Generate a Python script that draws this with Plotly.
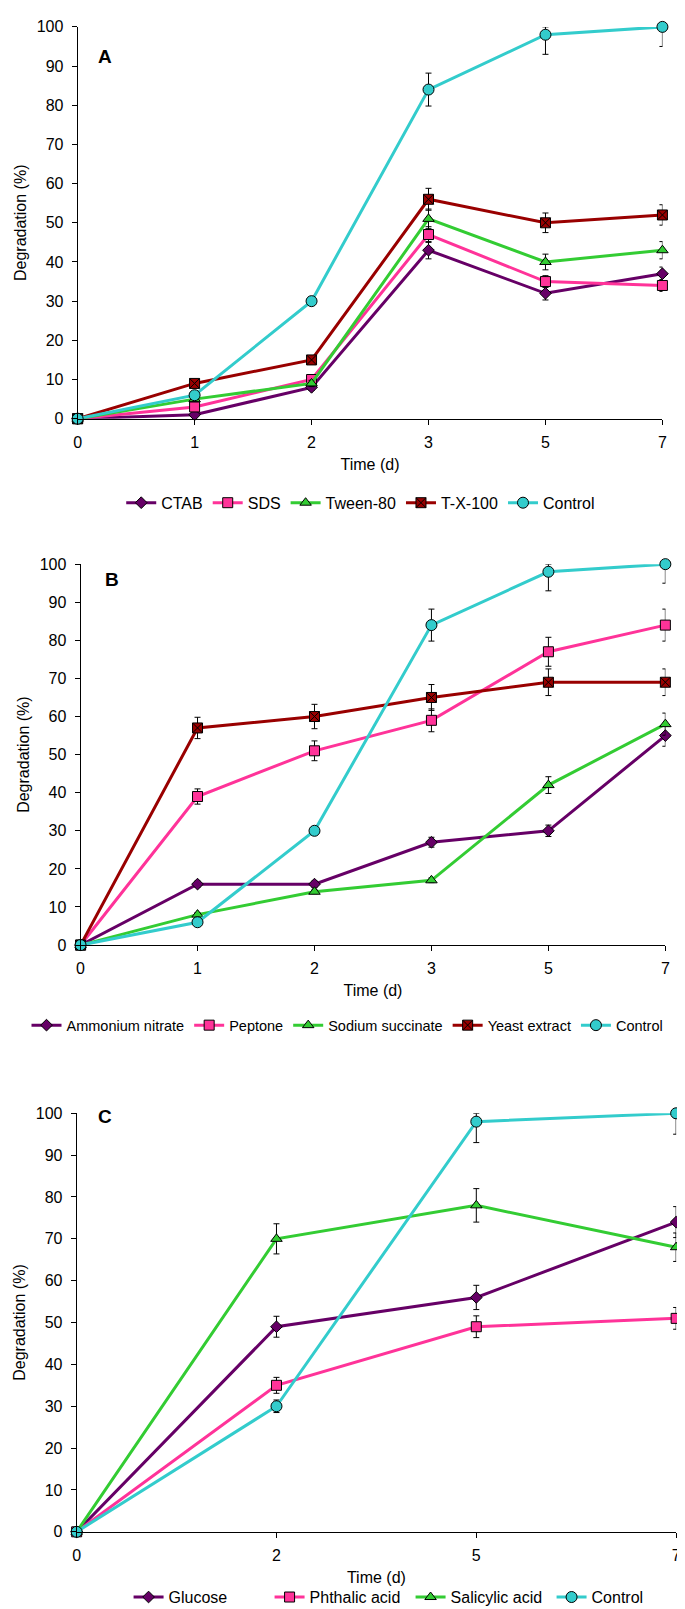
import plotly.graph_objects as go

# ---------------- data ----------------
days_a = ["0", "1", "2", "3", "5", "7"]
ctab = [0, 1, 8, 43, 32, 37]
ctab_err = [0, 0.5, 0.8, 2.2, 1.7, 1.7]
sds = [0, 3, 10, 47, 35, 34]
sds_err = [0, 0.6, 0.8, 2.0, 1.5, 1.5]
tween = [0, 5, 9, 51, 40, 43]
tween_err = [0, 0.6, 0.8, 2.5, 2.0, 2.2]
tx100 = [0, 9, 15, 56, 50, 52]
tx100_err = [0, 0.6, 0.8, 2.8, 2.5, 2.6]
control_a = [0, 6, 30, 84, 98, 100]
control_a_err = [0, 0.5, 1.0, 4.2, 5.0, 5.0]

days_b = ["0", "1", "2", "3", "5", "7"]
amm = [0, 16, 16, 27, 30, 55]
amm_err = [0, 0.8, 0.8, 1.3, 1.5, 2.8]
pep = [0, 39, 51, 59, 77, 84]
pep_err = [0, 2.0, 2.6, 3.0, 3.8, 4.2]
succ = [0, 8, 14, 17, 42, 58]
succ_err = [0, 0.5, 0.5, 0.6, 2.2, 2.9]
yeast = [0, 57, 60, 65, 69, 69]
yeast_err = [0, 2.8, 3.2, 3.4, 3.5, 3.5]
control_b = [0, 6, 30, 84, 98, 100]
control_b_err = [0, 0.5, 1.0, 4.2, 5.0, 5.0]

days_c = ["0", "2", "5", "7"]
glu = [0, 49, 56, 74]
glu_err = [0, 2.5, 2.9, 3.7]
pht = [0, 35, 49, 51]
pht_err = [0, 1.9, 2.6, 2.6]
sal = [0, 70, 78, 68]
sal_err = [0, 3.6, 4.0, 3.4]
control_c = [0, 30, 98, 100]
control_c_err = [0, 1.5, 5.0, 5.0]

# ---------------- styles ----------------
PURPLE = "#660066"
PINK = "#FF3399"
GREEN = "#33CC33"
DARKRED = "#990000"
TURQ = "#33CCCC"
FONT = "Liberation Sans, Arial, sans-serif"

fig = go.Figure()


def add(x, y, err, name, color, symbol, size, axis, legend):
    plus = [min(e, 100 - v) for e, v in zip(err, y)]
    fig.add_trace(go.Scatter(
        x=x, y=y, name=name, mode="lines+markers",
        line=dict(color=color, width=3),
        marker=dict(symbol=symbol, size=size, color=color,
                    line=dict(color="black", width=1)),
        error_y=dict(type="data", symmetric=False, array=plus, arrayminus=err,
                     color="black", thickness=1, width=3),
        xaxis="x" + axis, yaxis="y" + axis, legend=legend,
        cliponaxis=False,
    ))


add(days_a, ctab, ctab_err, "CTAB", PURPLE, "diamond", 9, "", "legend")
add(days_a, sds, sds_err, "SDS", PINK, "square", 10, "", "legend")
add(days_a, tween, tween_err, "Tween-80", GREEN, "triangle-up", 10, "", "legend")
add(days_a, tx100, tx100_err, "T-X-100", DARKRED, "square-x", 10, "", "legend")
add(days_a, control_a, control_a_err, "Control", TURQ, "circle", 11, "", "legend")

add(days_b, amm, amm_err, "Ammonium nitrate", PURPLE, "diamond", 9, "2", "legend2")
add(days_b, pep, pep_err, "Peptone", PINK, "square", 10, "2", "legend2")
add(days_b, succ, succ_err, "Sodium succinate", GREEN, "triangle-up", 10, "2", "legend2")
add(days_b, yeast, yeast_err, "Yeast extract", DARKRED, "square-x", 10, "2", "legend2")
add(days_b, control_b, control_b_err, "Control", TURQ, "circle", 11, "2", "legend2")

add(days_c, glu, glu_err, "Glucose", PURPLE, "diamond", 9, "3", "legend3")
add(days_c, pht, pht_err, "Phthalic acid", PINK, "square", 10, "3", "legend3")
add(days_c, sal, sal_err, "Salicylic acid", GREEN, "triangle-up", 10, "3", "legend3")
add(days_c, control_c, control_c_err, "Control", TURQ, "circle", 11, "3", "legend3")

W, H = 685, 1609


def xdom(l, r):
    return [l / W, r / W]


def ydom(bottom, top):
    return [1 - bottom / H, 1 - top / H]


def xaxis(dom, n, anchor):
    return dict(domain=dom, anchor=anchor, type="category", range=[0, n - 1],
                showline=True, linecolor="black", linewidth=1,
                ticks="outside", ticklen=5, tickcolor="black",
                showgrid=False, zeroline=False,
                tickfont=dict(family=FONT, size=16, color="black"),
                ticklabelstandoff=4, ticklabeloverflow="allow",
                title=dict(text="Time (d)", font=dict(family=FONT, size=16, color="black"),
                           standoff=8))


def yaxis(dom, anchor):
    return dict(domain=dom, anchor=anchor, range=[0, 100], dtick=10,
                showline=True, linecolor="black", linewidth=1,
                ticks="outside", ticklen=5, tickcolor="black",
                showgrid=False, zeroline=False,
                tickfont=dict(family=FONT, size=16, color="black"),
                ticklabelstandoff=5,
                title=dict(text="Degradation (%)", font=dict(family=FONT, size=16, color="black"),
                           standoff=6))


legend_common = dict(orientation="h", yanchor="middle",
                     bgcolor="rgba(0,0,0,0)", itemwidth=30)

fig.update_layout(
    width=W, height=H,
    margin=dict(l=0, r=0, t=0, b=0),
    paper_bgcolor="white", plot_bgcolor="white",
    font=dict(family=FONT, color="black"),
    xaxis=xaxis(xdom(67, 664), len(days_a), "y"),
    yaxis=yaxis(ydom(407, 11), "x"),
    xaxis2=xaxis(xdom(70, 667), len(days_b), "y2"),
    yaxis2=yaxis(ydom(939, 554), "x2"),
    xaxis3=xaxis(xdom(66, 678), len(days_c), "y3"),
    yaxis3=yaxis(ydom(1532, 1109), "x3"),
    legend=dict(legend_common, x=356 / W, xanchor="center", y=1 - 492 / H,
                font=dict(family=FONT, size=16, color="black")),
    legend2=dict(legend_common, x=0.5, xanchor="center", y=1 - 1020 / H,
                 font=dict(family=FONT, size=14.5, color="black")),
    legend3=dict(legend_common, x=119 / W, xanchor="left", y=1 - 1598 / H,
                 entrywidth=96, entrywidthmode="pixels",
                 font=dict(family=FONT, size=16, color="black")),
    annotations=[
        dict(text="<b>A</b>", x=86 / W, y=1 - 28 / H, xref="paper", yref="paper",
             showarrow=False, font=dict(family=FONT, size=19, color="black")),
        dict(text="<b>B</b>", x=93 / W, y=1 - 570 / H, xref="paper", yref="paper",
             showarrow=False, font=dict(family=FONT, size=19, color="black")),
        dict(text="<b>C</b>", x=86 / W, y=1 - 1125 / H, xref="paper", yref="paper",
             showarrow=False, font=dict(family=FONT, size=19, color="black")),
    ],
)

fig.write_html("out.html")
